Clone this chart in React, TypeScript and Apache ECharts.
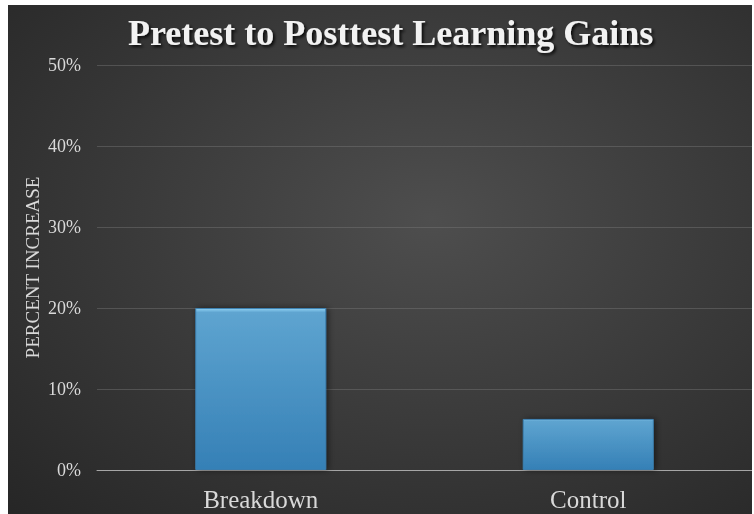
import React, { useEffect, useRef } from "react";
import * as echarts from "echarts";

const categories = ["Breakdown", "Control"];
const gains = [20, 6.3];
const yTicks = [0, 10, 20, 30, 40, 50];

export default function App() {
  const ref = useRef<HTMLDivElement>(null);
  useEffect(() => {
    if (!ref.current) return;
    const chart = echarts.init(ref.current, null, { renderer: "svg" });
    const serif = "'Liberation Serif', 'Times New Roman', serif";
    chart.setOption({
      animation: false,
      title: {
        text: "Pretest to Posttest Learning Gains",
        left: 115,
        top: 5,
        textStyle: {
          fontFamily: serif,
          fontWeight: "bold",
          fontSize: 36,
          color: "#f2f2f2",
          textShadowColor: "rgba(0,0,0,0.8)",
          textShadowBlur: 3,
          textShadowOffsetX: 2,
          textShadowOffsetY: 2,
        },
      },
      grid: { left: 89, right: 0, top: 60, bottom: 44 },
      xAxis: {
        type: "category",
        data: categories,
        axisLine: { lineStyle: { color: "#a6a6a6", width: 1 } },
        axisTick: { show: false },
        axisLabel: {
          fontFamily: serif,
          fontSize: 25,
          color: "#d9d9d9",
          margin: 17,
        },
      },
      yAxis: {
        type: "value",
        min: yTicks[0],
        max: yTicks[yTicks.length - 1],
        interval: 10,
        name: "PERCENT INCREASE",
        nameLocation: "middle",
        nameGap: 55,
        nameMoveOverlap: false,
        nameTextStyle: { fontFamily: serif, fontSize: 19, color: "#d9d9d9" },
        axisLine: { show: false },
        axisTick: { show: false },
        axisLabel: {
          fontFamily: serif,
          fontSize: 18,
          color: "#d9d9d9",
          margin: 16,
          formatter: (v: number) => v + "%",
        },
        splitLine: { lineStyle: { color: "rgba(120,120,120,0.45)", width: 1 } },
      },
      series: [
        {
          type: "bar",
          data: gains,
          barWidth: "40%",
          itemStyle: {
            color: new echarts.graphic.LinearGradient(0, 0, 0, 1, [
              { offset: 0, color: "#8fd0f2" },
              { offset: 0.025, color: "#5ea4d0" },
              { offset: 1, color: "#3580b6" },
            ]),
            borderColor: "rgba(60,130,180,0.9)",
            borderWidth: 1,
            shadowColor: "rgba(0,0,0,0.5)",
            shadowBlur: 6,
            shadowOffsetX: 2,
            shadowOffsetY: 0,
          },
        },
      ],
    });
    return () => chart.dispose();
  }, []);
  return (
    <div
      ref={ref}
      style={{
        position: "fixed",
        left: 8,
        top: 5,
        width: 744,
        height: 509,
        background:
          "radial-gradient(ellipse at 57% 42%, #4e4e4e 0%, #3c3c3c 45%, #262626 100%)",
      }}
    />
  );
}
